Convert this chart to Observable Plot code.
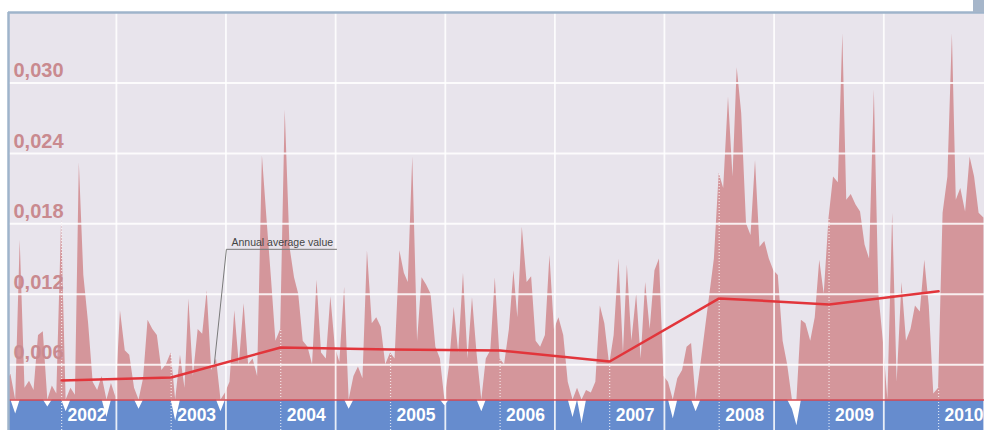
<!DOCTYPE html>
<html><head><meta charset="utf-8">
<script src="https://cdn.jsdelivr.net/npm/d3@7"></script>
<script src="https://cdn.jsdelivr.net/npm/@observablehq/plot@0.6"></script>
<style>
html,body{margin:0;padding:0;background:#fff;}
#wrap{position:relative;width:984px;height:430px;overflow:hidden;}
#wrap svg{display:block;}
#corner{position:absolute;left:973px;top:0;width:11px;height:12px;background:#a6b6ca;z-index:2;}
</style>
</head><body>
<div id="wrap"><div id="corner"></div></div>
<script>
// Semi-monthly readings (1st and 16th of each month)
const v2001 = [0.0045,0.0052,0.0018,0.0166,0.0040,0.0046,0.0038,0.0085,0.0088,0.0024,0.0042,0.0035]; // from July
const v2002 = [0.0183,0.0020,0.0040,0.0034,0.0232,0.0136,0.0095,0.0045,0.0038,0.0050,0.0015,0.0044,0.0032,0.0106,0.0072,0.0068,0.0040,0.0022,0.0048,0.0098,0.0090,0.0085,0.0055,0.0060];
const v2003 = [0.0070,0.0012,0.0068,0.0040,0.0116,0.0050,0.0090,0.0086,0.0123,0.0055,0.0065,0.0020,0.0036,0.0045,0.0106,0.0060,0.0112,0.0060,0.0065,0.0050,0.0238,0.0185,0.0134,0.0080];
const v2004 = [0.0090,0.0277,0.0160,0.0134,0.0120,0.0080,0.0075,0.0060,0.0132,0.0070,0.0065,0.0118,0.0075,0.0062,0.0126,0.0022,0.0050,0.0058,0.0048,0.0157,0.0095,0.0100,0.0092,0.0060];
const v2005 = [0.0070,0.0065,0.0157,0.0138,0.0130,0.0237,0.0080,0.0134,0.0128,0.0120,0.0075,0.0065,0.0025,0.0058,0.0109,0.0070,0.0138,0.0065,0.0117,0.0070,0.0020,0.0065,0.0072,0.0134];
const v2006 = [0.0065,0.0060,0.0090,0.0140,0.0100,0.0177,0.0130,0.0135,0.0080,0.0075,0.0085,0.0153,0.0090,0.0100,0.0085,0.0045,0.0015,0.0040,0.0010,0.0038,0.0036,0.0045,0.0110,0.0095];
const v2007 = [0.0060,0.0085,0.0150,0.0070,0.0145,0.0080,0.0120,0.0065,0.0130,0.0090,0.0140,0.0150,0.0050,0.0045,0.0014,0.0048,0.0055,0.0075,0.0078,0.0020,0.0060,0.0090,0.0120,0.0150];
const v2008 = [0.0223,0.0210,0.0288,0.0220,0.0313,0.0274,0.0180,0.0170,0.0234,0.0160,0.0165,0.0150,0.0140,0.0136,0.0080,0.0060,0.0022,0.0008,0.0098,0.0095,0.0080,0.0100,0.0149,0.0120];
const v2009 = [0.0185,0.0220,0.0215,0.0342,0.0200,0.0205,0.0196,0.0190,0.0162,0.0150,0.0294,0.0120,0.0080,0.0030,0.0189,0.0045,0.0130,0.0080,0.0090,0.0110,0.0105,0.0149,0.0110,0.0035];
const v2010 = [0.0040,0.0189,0.0220,0.0342,0.0200,0.0210,0.0190,0.0237,0.0220,0.0189,0.0185]; // to June

const avgYears  = [2002,2003,2004,2005,2006,2007,2008,2009,2010];
const avgValues = [0.00466,0.00492,0.00747,0.0073,0.00722,0.00628,0.01165,0.01114,0.01225];

const yTicks = [0.006,0.012,0.018,0.024,0.030];
const threshold = 0.003;

const noteText = "Annual average value";
const noteDates  = ["2003-05-25","2003-07-04","2004-07-05"];
const noteValues = [0.00611,0.01583,0.01583];
const noteTextDate = "2003-07-21";
const noteTextValue = 0.01642;

// build table
function build(year, startMonth, vals) {
  return vals.map((v, i) => ({date: new Date(Date.UTC(year, startMonth + Math.floor(i / 2), i % 2 ? 16 : 1)), value: v}));
}
const data = [].concat(
  build(2001, 6, v2001), build(2002, 0, v2002), build(2003, 0, v2003), build(2004, 0, v2004),
  build(2005, 0, v2005), build(2006, 0, v2006), build(2007, 0, v2007), build(2008, 0, v2008),
  build(2009, 0, v2009), build(2010, 0, v2010)
);
const byTime = new Map(data.map(d => [d.date.getTime(), d.value]));
const avg = avgYears.map((y, i) => ({date: new Date(Date.UTC(y, 0, 1)), value: avgValues[i]}));
const yearStarts = avgYears.map(y => new Date(Date.UTC(y, 0, 1)));
const midYears = d3.range(2002, 2010).map(y => new Date((Date.UTC(y, 0, 1) + Date.UTC(y + 1, 0, 1)) / 2));
const note = noteDates.map((d, i) => ({date: new Date(d), value: noteValues[i]}));

const xDomain = [new Date(Date.UTC(2001, 6, 8)), new Date(Date.UTC(2010, 5, 3))];
const yMin = 0.0004, yMax = 0.036;
const fmt = d => d.toFixed(3).replace(".", ",");

const chart = Plot.plot({
  width: 984, height: 430,
  marginLeft: 8, marginRight: 0, marginTop: 12, marginBottom: 0,
  style: {fontFamily: "'Liberation Sans', Arial, sans-serif", background: "transparent"},
  x: {type: "utc", domain: xDomain, axis: null},
  y: {domain: [yMin, yMax], axis: null},
  marks: [
    Plot.frame({fill: "#e8e4ec", stroke: "none"}),
    Plot.rect([0], {x1: () => xDomain[0], x2: () => xDomain[1], y1: () => yMin, y2: () => threshold, fill: "#ffffff"}),
    Plot.areaY(data, {x: "date", y1: () => yMin, y2: d => Math.min(d.value, threshold), fill: "#668cce", clip: true}),
    Plot.areaY(data, {x: "date", y1: () => threshold, y2: d => Math.max(d.value, threshold), fill: "#d4969b", clip: true}),
    Plot.ruleY(yTicks, {stroke: "#ffffff", strokeWidth: 2, strokeOpacity: 0.85}),
    Plot.ruleX(midYears, {stroke: "#ffffff", strokeWidth: 1.8, strokeOpacity: 0.85}),
    Plot.ruleX(yearStarts, {x: d => d, y1: () => yMin, y2: d => byTime.get(d.getTime()), stroke: "#ffffff", strokeWidth: 1.2, strokeDasharray: "1,2", strokeOpacity: 0.75}),
    Plot.ruleY([threshold], {stroke: "#d9464d", strokeWidth: 1.5}),
    Plot.line(avg, {x: "date", y: "value", stroke: "#e2353b", strokeWidth: 2.5}),
    Plot.line(note, {x: "date", y: "value", stroke: "#7a7a7a", strokeWidth: 1}),
    Plot.text([noteText], {x: () => new Date(noteTextDate), y: () => noteTextValue, text: d => d, textAnchor: "start", fontSize: 10.5, fill: "#444444"}),
    Plot.text(yTicks, {y: d => d, text: fmt, frameAnchor: "left", dx: 5, dy: -12, textAnchor: "start", fill: "#c98a8f", fontSize: 20, fontWeight: "bold"}),
    Plot.text(avgYears, {x: y => new Date(Date.UTC(y, 0, 1)), text: y => String(y), frameAnchor: "bottom", dx: 6, dy: -10, textAnchor: "start", fill: "#ffffff", fontSize: 17.5, fontWeight: "bold"}),
    Plot.ruleY([yMax], {stroke: "#9fb4cb", strokeWidth: 2.5}),
    Plot.ruleX([xDomain[0]], {stroke: "#9fb4cb", strokeWidth: 2.5})
  ]
});
document.getElementById("wrap").appendChild(chart);
</script>
</body></html>
